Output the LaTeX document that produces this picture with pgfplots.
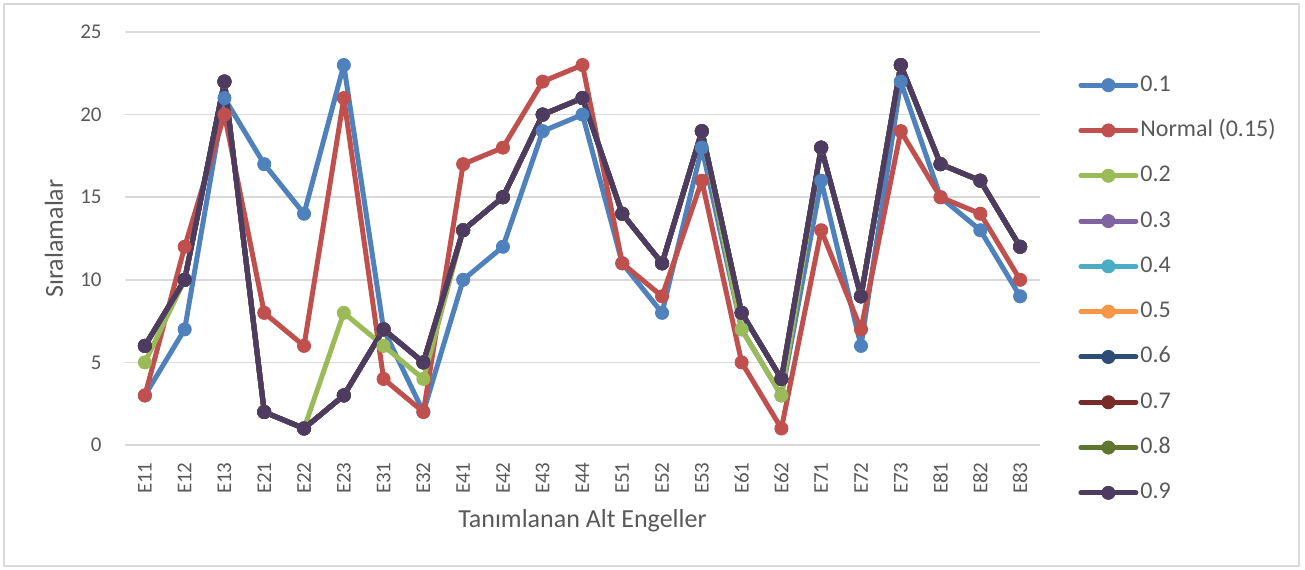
\documentclass[border=0pt]{standalone}
\usepackage{pgfplots}
\pgfplotsset{compat=1.18}
\usepackage{pgfplotstable}
\usepackage{fontspec}
\setmainfont{Carlito}
\definecolor{txt}{HTML}{595959}
\definecolor{gridc}{HTML}{D9D9D9}
\definecolor{frame}{HTML}{D9D9D9}
\definecolor{c1}{HTML}{4F81BD}
\definecolor{c2}{HTML}{C0504D}
\definecolor{c3}{HTML}{9BBB59}
\definecolor{c4}{HTML}{8064A2}
\definecolor{c5}{HTML}{4BACC6}
\definecolor{c6}{HTML}{F79646}
\definecolor{c7}{HTML}{2C4D75}
\definecolor{c8}{HTML}{772C2A}
\definecolor{c9}{HTML}{5F7530}
\definecolor{c10}{HTML}{4D3B62}
\pgfplotstableread{
idx b r g d
0 3 3 5 6
1 7 12 10 10
2 21 20 22 22
3 17 8 2 2
4 14 6 1 1
5 23 21 8 3
6 7 4 6 7
7 2 2 4 5
8 10 17 13 13
9 12 18 15 15
10 19 22 20 20
11 20 23 21 21
12 11 11 14 14
13 8 9 11 11
14 18 16 19 19
15 7 5 7 8
16 3 1 3 4
17 16 13 18 18
18 6 7 9 9
19 22 19 23 23
20 15 15 17 17
21 13 14 16 16
22 9 10 12 12
}\data
\begin{document}
\begin{tikzpicture}
\begin{axis}[
  scale only axis,
  width=457.5pt, height=206.5pt,
  xmin=-0.5, xmax=22.5, ymin=0, ymax=25,
  ytick={0,5,10,15,20,25},
  xtick={0,...,22},
  xticklabels={E11,E12,E13,E21,E22,E23,E31,E32,E41,E42,E43,E44,E51,E52,E53,E61,E62,E71,E72,E73,E81,E82,E83},
  axis line style={draw=none},
  major tick length=0pt,
  ymajorgrids,
  grid style={color=gridc, line width=0.75pt},
  /pgf/number format/assume math mode=true,
  tick label style={font=\fontsize{10.5}{12}\selectfont, text=txt},
  yticklabel style={inner sep=0pt, anchor=east, xshift=-11.5pt},
  xticklabel style={rotate=90, anchor=east, inner sep=0pt},
  xticklabel shift=8.5pt,
  xlabel={Tanımlanan Alt Engeller},
  ylabel={Sıralamalar},
  label style={font=\fontsize{13}{15}\selectfont, text=txt},
  xlabel style={at={(axis description cs:0.5,-0.183)}, anchor=center},
  ylabel style={at={(axis description cs:-0.0776,0.5)}, anchor=center, rotate=0},
  every axis plot/.append style={line width=2.5pt, line cap=round, line join=round, mark=*, mark size=3.3pt},
  legend style={draw=none, fill=none, at={(1,0.5)}, anchor=west, xshift=19pt, yshift=-25.25pt,
    font=\fontsize{12}{14}\selectfont, text=txt, inner sep=0pt, row sep=8.65pt,
    nodes={inner sep=1pt, text height=9pt, text depth=3pt}},
  legend cell align=left,
  legend image code/.code={\draw[mark repeat=2,mark phase=2,#1] plot coordinates {(0pt,0pt) (13.75pt,0pt) (27.5pt,0pt)};},
  clip=false,
]
\addplot[color=c1, mark options={solid, fill=c1, line width=0.4pt}] table[x=idx,y=b] {\data};
\addlegendentry{0.1}
\addplot[color=c2, mark options={solid, fill=c2, line width=0.4pt}] table[x=idx,y=r] {\data};
\addlegendentry{Normal (0.15)}
\addplot[color=c3, mark options={solid, fill=c3, line width=0.4pt}] table[x=idx,y=g] {\data};
\addlegendentry{0.2}
\addplot[color=c4, mark options={solid, fill=c4, line width=0.4pt}] table[x=idx,y=d] {\data};
\addlegendentry{0.3}
\addplot[color=c5, mark options={solid, fill=c5, line width=0.4pt}] table[x=idx,y=d] {\data};
\addlegendentry{0.4}
\addplot[color=c6, mark options={solid, fill=c6, line width=0.4pt}] table[x=idx,y=d] {\data};
\addlegendentry{0.5}
\addplot[color=c7, mark options={solid, fill=c7, line width=0.4pt}] table[x=idx,y=d] {\data};
\addlegendentry{0.6}
\addplot[color=c8, mark options={solid, fill=c8, line width=0.4pt}] table[x=idx,y=d] {\data};
\addlegendentry{0.7}
\addplot[color=c9, mark options={solid, fill=c9, line width=0.4pt}] table[x=idx,y=d] {\data};
\addlegendentry{0.8}
\addplot[color=c10, mark options={solid, fill=c10, line width=0.4pt}] table[x=idx,y=d] {\data};
\addlegendentry{0.9}
\end{axis}
\draw[frame, line width=0.75pt] (-60.5pt,-60.5pt) rectangle (587pt,220.5pt);
\pgfresetboundingbox
\path (-62.5pt,-62pt) rectangle (590pt,222.5pt);
\end{tikzpicture}
\end{document}
